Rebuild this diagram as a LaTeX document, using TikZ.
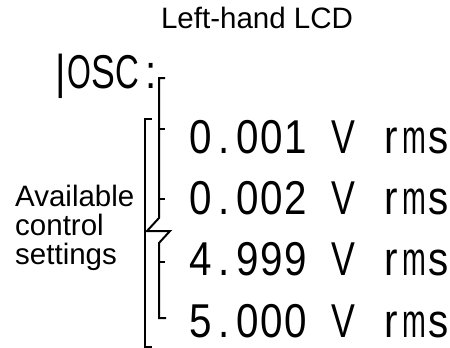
\documentclass[tikz,border=0pt]{standalone}
\usepackage{fontspec}
\usepackage{graphicx}
\setmainfont{Liberation Sans}
\usetikzlibrary{positioning}
% fixed-pitch cells for the LCD characters
\newlength\lcdpitch
\setlength\lcdpitch{28pt}
\newsavebox\lcdbox
\newcommand\lcdcell[1]{\sbox\lcdbox{#1}%
  \ifdim\wd\lcdbox>\lcdpitch
    \makebox[\lcdpitch][c]{\resizebox{\lcdpitch}{\height}{#1}}%
  \else
    \makebox[\lcdpitch][c]{#1}%
  \fi}
\def\lcdloop#1{\ifx\relax#1\else\lcdcell{#1}\expandafter\lcdloop\fi}
\newcommand\lcdtext[1]{\scalebox{0.85}[1]{\fontsize{47.5}{48}\selectfont\lcdloop#1\relax}}

\begin{document}
\begin{tikzpicture}[
  x=1pt, y=-1pt,
  label/.style={font=\fontsize{29.5}{29}\selectfont, inner sep=0pt, align=left},
  lcd/.style={inner sep=0pt, anchor=base west},
  bracket/.style={line width=2pt, line join=miter}
]
\useasboundingbox (0,0) rectangle (450,348);

\node[label, anchor=base] (title) at (257,28) {Left-hand LCD};
\node[lcd] (osc) at (49,88) {\lcdtext{|}\hspace{-5pt}\lcdtext{OSC:}};

\node[lcd] (r1) at (188.5,153) {\lcdtext{0.001~V~rms}};
\node[lcd] (r2) at (188.5,214) {\lcdtext{0.002~V~rms}};
\node[lcd] (r3) at (188.5,275) {\lcdtext{4.999~V~rms}};
\node[lcd] (r4) at (188.5,337) {\lcdtext{5.000~V~rms}};

\node[label, anchor=base west] (avail) at (15,264) {Available\\control\\settings};

% outer bracket
\draw[bracket] (152,119) -- (145,119) -- (145,347) -- (152,347);
% inner bracket with break
\draw[bracket] (165,78) -- (159,78) -- (159,218) -- (147,231) -- (170,231)
  -- (159,243) -- (159,318) -- (166,318);
\foreach \y in {129,199,262}
  \draw[bracket] (159,\y) -- (165,\y);
\end{tikzpicture}
\end{document}
